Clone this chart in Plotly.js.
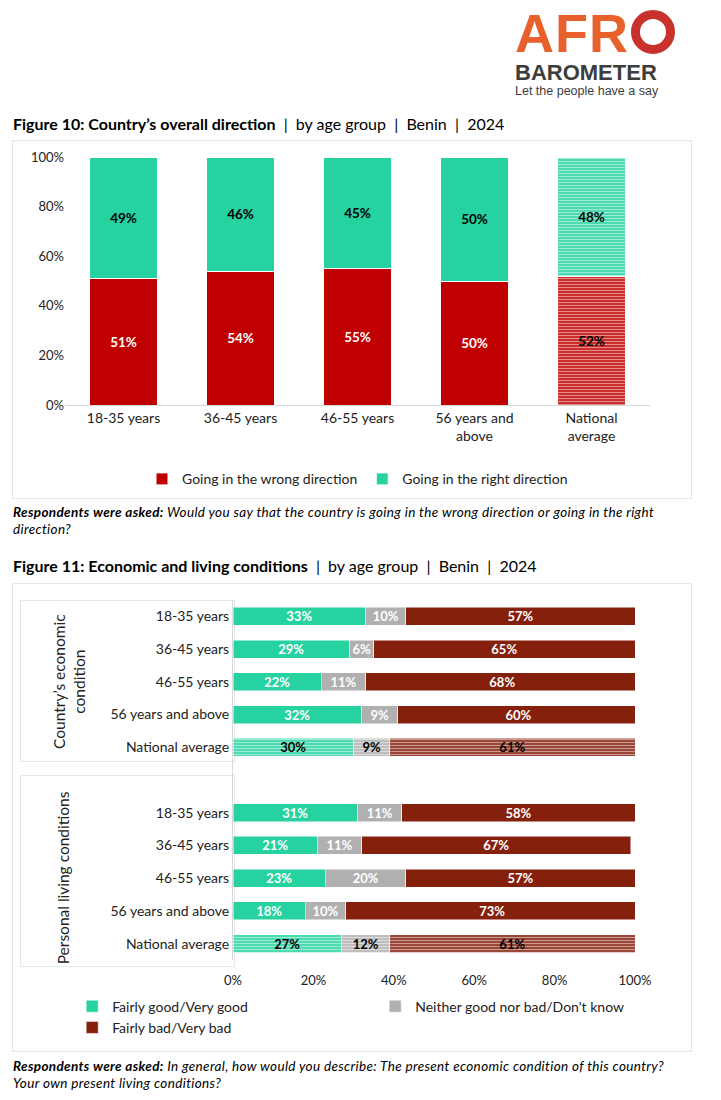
<!DOCTYPE html>
<html>
<head>
<meta charset="utf-8">
<script src="https://cdn.plot.ly/plotly-3.0.1.min.js"></script>
<style>
body { margin:0; background:#fff; font-family:"Lato","Open Sans",sans-serif; color:#000; }
#page { position:relative; width:721px; height:1100px; }
.abs { position:absolute; }
.ftitle { font-size:16px; }
.ftitle b { font-weight:700; }
.note { font-size:13.5px; line-height:17px; font-style:italic; letter-spacing:0.35px; }
.box { position:absolute; border:1px solid #e6e6e6; }
</style>
</head>
<body>
<div id="page">
  <div class="abs" style="left:515px;top:6px;width:200px;">
    <div style="font-family:'Liberation Sans',Arial;font-weight:900;font-size:54px;color:#E8602C;line-height:54px;letter-spacing:1px;">AFR<span style="display:inline-block;width:44px;height:44px;border-radius:50%;border:9px solid #C9312C;box-sizing:border-box;margin-left:2px;vertical-align:-2px;"></span></div>
    <div style="font-family:'Liberation Sans',Arial;font-weight:700;font-size:22px;color:#3d3d3d;line-height:22px;margin-top:2px;">BAROMETER</div>
    <div style="font-family:'Liberation Sans',Arial;font-size:12.5px;color:#3d3d3d;line-height:14px;">Let the people have a say</div>
  </div>
  <div class="abs ftitle" style="left:13px;top:114px;"><b>Figure 10: Country’s overall direction</b> &nbsp;|&nbsp; by age group &nbsp;|&nbsp; Benin &nbsp;|&nbsp; 2024</div>
  <div class="box" style="left:12px;top:140px;width:678px;height:357px;"></div>
  <div id="c1" class="abs" style="left:12px;top:140px;width:678px;height:357px;"></div>
  <div class="abs note" style="left:13px;top:504px;width:680px;"><b>Respondents were asked:</b> Would you say that the country is going in the wrong direction or going in the right direction?</div>
  <div class="abs ftitle" style="left:13px;top:556px;"><b>Figure 11: Economic and living conditions</b> &nbsp;|&nbsp; by age group &nbsp;|&nbsp; Benin &nbsp;|&nbsp; 2024</div>
  <div class="box" style="left:12px;top:583px;width:678px;height:467px;"></div>
  <div class="box" style="left:20px;top:600px;width:213px;height:160px;"></div>
  <div class="box" style="left:20px;top:775px;width:213px;height:190px;"></div>
  <div id="c2" class="abs" style="left:12px;top:583px;width:678px;height:467px;"></div>
  <div class="abs note" style="left:13px;top:1058px;width:680px;"><b>Respondents were asked:</b> In general, how would you describe: The present economic condition of this country? Your own present living conditions?</div>
</div>
<script>
const FONT = "Lato, 'Open Sans', sans-serif";
const RED = '#C00000', GREEN = '#26D3A0', DARK = '#85200C', GREY = '#B0B0B0';
function hatch(c) { return { shape: '-', bgcolor: c, fgcolor: '#ffffff', fgopacity: 0.55, size: 3, solidity: 0.55, fillmode: 'overlay' }; }

// Figure 10
const ageGroups = ['18-35 years', '36-45 years', '46-55 years', '56 years and<br>above', 'National<br>average'];
const wrongDir = [51, 54, 55, 50, 52];
const rightDir = [49, 46, 45, 50, 48];
const natIdx1 = 4;

function bar1(name, vals, color, nat) {
  const idx = vals.map((_, i) => i).filter(i => nat ? i === natIdx1 : i !== natIdx1);
  return { name: name, x: idx.map(i => ageGroups[i]), y: idx.map(i => vals[i]), type: 'bar',
    showlegend: !nat, legendgroup: name,
    marker: { color: color, pattern: nat ? hatch(color) : undefined, line: { color: '#fff', width: 1 } },
    text: idx.map(i => '<b>' + vals[i] + '%</b>'), textposition: 'inside', insidetextanchor: 'middle',
    textfont: { color: nat ? '#000' : (color === RED ? '#fff' : '#000'), size: 13.5, family: FONT }, hoverinfo: 'none' };
}
Plotly.newPlot('c1', [
  bar1('Going in the wrong direction', wrongDir, RED, false),
  bar1('Going in the wrong direction', wrongDir, RED, true),
  bar1('Going in the right direction', rightDir, GREEN, false),
  bar1('Going in the right direction', rightDir, GREEN, true)
], {
  width: 678, height: 357, barmode: 'stack', bargap: 0.42,
  margin: { l: 53, r: 40, t: 17, b: 92, autoexpand: false },
  paper_bgcolor: 'rgba(0,0,0,0)', plot_bgcolor: 'rgba(0,0,0,0)',
  font: { family: FONT, size: 14, color: '#222' },
  xaxis: { categoryorder: 'array', categoryarray: ageGroups, showline: true, linecolor: '#d9d9d9', tickfont: { size: 14 } },
  yaxis: { range: [0, 100], dtick: 20, ticksuffix: '%', showgrid: false, tickfont: { size: 13 } },
  showlegend: true,
  legend: { orientation: 'h', x: 0.5, xanchor: 'center', y: -0.235, yanchor: 'top', traceorder: 'normal', font: { size: 14 } }
}, { staticPlot: true });

// Figure 11
const rows = ['18-35 years', '36-45 years', '46-55 years', '56 years and above', 'National average', '',
              '18-35 years', '36-45 years', '46-55 years', '56 years and above', 'National average'];
const goodVals = [33, 29, 22, 32, 30, null, 31, 21, 23, 18, 27];
const neitherVals = [10, 6, 11, 9, 9, null, 11, 11, 20, 10, 12];
const badVals = [57, 65, 68, 60, 61, null, 58, 67, 57, 73, 61];
const yIdx = rows.map((_, i) => i);
const natRows = [4, 10];

function bar2(name, vals, color, nat) {
  const idx = yIdx.filter(i => vals[i] != null && (nat ? natRows.includes(i) : !natRows.includes(i)));
  return { name: name, y: idx, x: idx.map(i => vals[i]), type: 'bar', orientation: 'h',
    showlegend: !nat, legendgroup: name,
    marker: { color: color, pattern: nat ? hatch(color) : undefined, line: { color: '#fff', width: 0.5 } },
    text: idx.map(i => '<b>' + vals[i] + '%</b>'), textposition: 'inside', insidetextanchor: 'middle',
    constraintext: 'none',
    textfont: { color: nat ? '#000' : '#fff', size: 13, family: FONT }, hoverinfo: 'none' };
}
Plotly.newPlot('c2', [
  bar2('Fairly good/Very good', goodVals, GREEN, false),
  bar2('Fairly good/Very good', goodVals, GREEN, true),
  bar2('Neither good nor bad/Don\'t know', neitherVals, GREY, false),
  bar2('Neither good nor bad/Don\'t know', neitherVals, GREY, true),
  bar2('Fairly bad/Very bad', badVals, DARK, false),
  bar2('Fairly bad/Very bad', badVals, DARK, true)
], {
  width: 678, height: 467, barmode: 'stack', bargap: 0.45,
  margin: { l: 221, r: 55, t: 16.5, b: 90, autoexpand: false },
  paper_bgcolor: 'rgba(0,0,0,0)', plot_bgcolor: 'rgba(0,0,0,0)',
  font: { family: FONT, size: 14, color: '#222' },
  xaxis: { range: [0, 100], dtick: 20, ticksuffix: '%', showgrid: false, zeroline: false, tickfont: { size: 13 }, ticklen: 8, ticks: 'outside', tickcolor: 'rgba(0,0,0,0)' },
  yaxis: { tickvals: yIdx, ticktext: rows, range: [10.5, -0.5], ticks: '', ticklen: 0,
           showline: true, linecolor: '#d9d9d9', tickfont: { size: 14 } },
  annotations: [
    { text: 'Country’s economic<br>condition', xref: 'paper', yref: 'y', x: -0.46, y: 2, textangle: -90,
      showarrow: false, font: { size: 15.5, color: '#222' } },
    { text: 'Personal living conditions', xref: 'paper', yref: 'y', x: -0.45, y: 8, textangle: -90,
      showarrow: false, font: { size: 15.5, color: '#222' } }
  ],
  legend: { orientation: 'h', x: -0.4, y: -0.085, entrywidth: 258, entrywidthmode: 'pixels',
            font: { size: 14 }, traceorder: 'normal' }
}, { staticPlot: true });
</script>
</body>
</html>
